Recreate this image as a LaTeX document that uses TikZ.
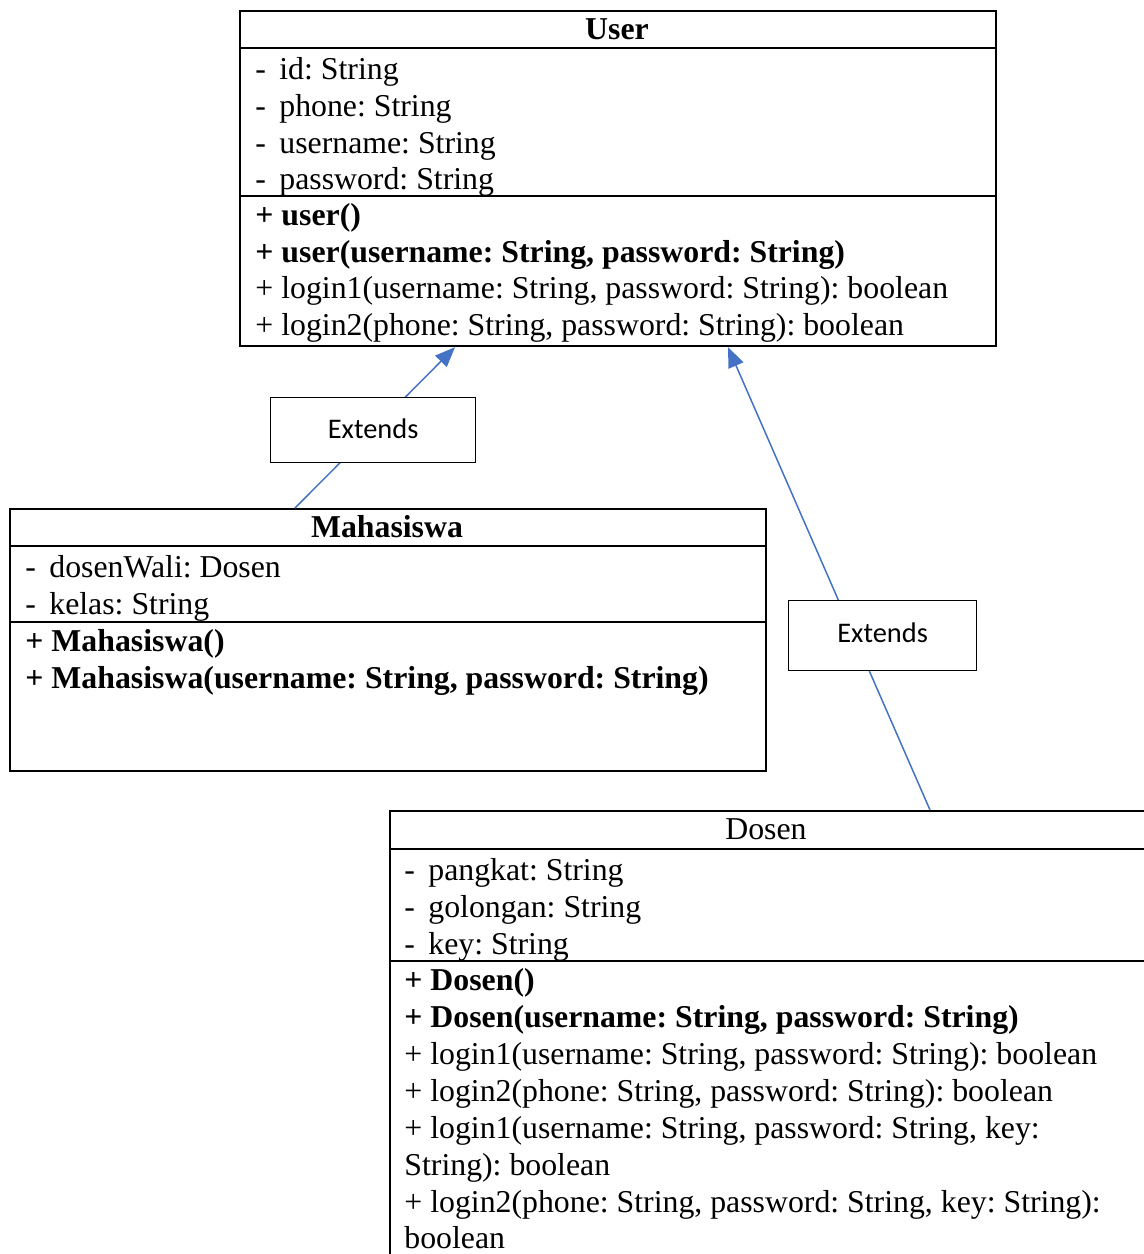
\documentclass[tikz,border=0pt]{standalone}
\usepackage{fontspec}
\setmainfont{Liberation Serif}
\newfontfamily\calfont{Carlito}
\usetikzlibrary{arrows.meta}
\definecolor{linkblue}{HTML}{4472C4}
\newcommand{\clsfont}{\fontsize{15.9}{18}\selectfont\frenchspacing}
\tikzset{
  cls/.style={draw, line width=1.1pt, inner sep=0pt, rectangle, anchor=north west},
  divider/.style={line width=1.1pt},
  txt/.style={anchor=base west, inner sep=0pt, font=\clsfont},
  btxt/.style={anchor=base west, inner sep=0pt, font=\clsfont\bfseries},
  ttl/.style={anchor=base, inner sep=0pt, font=\clsfont},
  ext/.style={draw, line width=0.6pt, fill=white, inner sep=0pt, anchor=north west,
    font=\calfont\fontsize{14.2}{16}\selectfont},
  rel/.style={draw=linkblue, line width=0.75pt, -{Triangle[length=10pt,width=8pt]}}
}
\newcommand{\dsh}{\makebox[12pt][l]{-}}
\begin{document}
\begin{tikzpicture}[x=0.5pt,y=-0.5pt]
\useasboundingbox (0,0) rectangle (1144,1254);
\clip (0,0) rectangle (1144,1254);

% ---------- User ----------
\node[cls, minimum width=378pt, minimum height=167.5pt] (user) at (239,10) {};
\draw[divider] (user.west |- 0,48) -- (user.east |- 0,48);
\draw[divider] (user.west |- 0,196) -- (user.east |- 0,196);
\node[ttl, font=\clsfont\bfseries] (userT) at (617,39) {User};
\node[txt] (u1) at (255,79) {\dsh id: String};
\node[txt] (u2) at (255,116) {\dsh phone: String};
\node[txt] (u3) at (255,153) {\dsh username: String};
\node[txt] (u4) at (255,189) {\dsh password: String};
\node[btxt] (u5) at (255,225) {+ user()};
\node[btxt] (u6) at (255,262) {+ user(username: String, password: String)};
\node[txt] (u7) at (255,298) {+ login1(username: String, password: String): boolean};
\node[txt] (u8) at (255,335) {+ login2(phone: String, password: String): boolean};

% ---------- Mahasiswa ----------
\node[cls, minimum width=378pt, minimum height=131pt] (maha) at (9,508) {};
\draw[divider] (maha.west |- 0,546) -- (maha.east |- 0,546);
\draw[divider] (maha.west |- 0,622) -- (maha.east |- 0,622);
\node[ttl, font=\clsfont\bfseries] (mahaT) at (387,537) {Mahasiswa};
\node[txt] (m1) at (25,577) {\dsh dosenWali: Dosen};
\node[txt] (m2) at (25,614) {\dsh kelas: String};
\node[btxt] (m3) at (25,651) {+ Mahasiswa()};
\node[btxt] (m4) at (25,688) {+ Mahasiswa(username: String, password: String)};

% ---------- Dosen ----------
\node[cls, minimum width=382pt, minimum height=230pt] (dosen) at (389,810) {};
\draw[divider] (dosen.west |- 0,849) -- (dosen.east |- 0,849);
\draw[divider] (dosen.west |- 0,961) -- (dosen.east |- 0,961);
\node[ttl] (dosenT) at (766,839) {Dosen};
\node[txt] (d1) at (404,880) {\dsh pangkat: String};
\node[txt] (d2) at (404,917) {\dsh golongan: String};
\node[txt] (d3) at (404,954) {\dsh key: String};
\node[btxt] (d4) at (404,990) {+ Dosen()};
\node[btxt] (d5) at (404,1027) {+ Dosen(username: String, password: String)};
\node[txt] (d6) at (404,1064) {+ login1(username: String, password: String): boolean};
\node[txt] (d7) at (404,1101) {+ login2(phone: String, password: String): boolean};
\node[txt] (d8) at (404,1138) {+ login1(username: String, password: String, key:};
\node[txt] (d9) at (404,1175) {String): boolean};
\node[txt] (d10) at (404,1212) {+ login2(phone: String, password: String, key: String):};
\node[txt] (d11) at (404,1248) {boolean};

% ---------- connectors ----------
\draw[rel] (maha.north -| 295,0) -- (user.south -| 455,0);
\draw[rel] (dosen.north -| 930,0) -- (user.south -| 728,0);

% ---------- labels ----------
\node[ext, minimum width=102.5pt, minimum height=32.5pt] (e1) at (270,397) {\raisebox{1.5pt}{Extends}};
\node[ext, minimum width=94pt, minimum height=35pt] (e2) at (788,600) {\raisebox{3pt}{Extends}};
\end{tikzpicture}
\end{document}
